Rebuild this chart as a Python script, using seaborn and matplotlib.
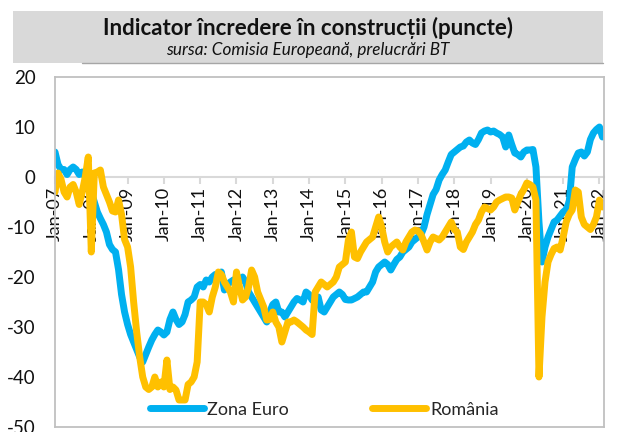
import numpy as np
import pandas as pd
import matplotlib
matplotlib.use("Agg")
import matplotlib.pyplot as plt
from matplotlib.patches import Rectangle
from matplotlib.lines import Line2D
import seaborn as sns

# lunar, ian 2007 - feb 2022
zona_euro = [
    5, 2.5, 1.5, 1.5, 0.5, 1.5, 2, 1.5, 0.5, 1, 0, -1,                          # 2007
    -3, -5, -7, -8.3, -9.5, -11, -13.5, -14.5, -15, -18.5, -23.5, -27,         # 2008
    -29.5, -31.5, -33, -34.5, -36, -37, -35.5, -34, -32.6, -31.5, -30.6, -31,  # 2009
    -31.6, -31, -28.5, -27, -28.5, -29.5, -29, -27.5, -25, -24.6, -24, -22,    # 2010
    -21.5, -22, -20.6, -21, -20, -19.5, -19.5, -19, -22.6, -21.5, -21, -20.6,  # 2011
    -20.6, -21, -20, -21, -23, -24, -25, -26, -27, -28, -29, -27,              # 2012
    -25.5, -25, -27, -27, -28, -27, -26, -25, -24.3, -24.6, -25, -23,          # 2013
    -23.5, -24.6, -25, -24, -26.6, -27, -26, -25, -24, -23.5, -23, -23.5,      # 2014
    -24.5, -24.6, -24.6, -24.3, -24, -23.5, -23, -23, -22, -21, -19, -18,      # 2015
    -17.5, -17, -17.5, -18.6, -17.5, -16.5, -16, -15, -14.5, -14, -13, -12.5,  # 2016
    -12, -11.5, -10, -7.5, -5.5, -3.5, -2.5, -0.6, 0.5, 1.4, 3, 4.5,           # 2017
    5, 5.5, 6, 6.2, 7, 7.4, 6.8, 6.5, 7.5, 8.8, 9.2, 9.4,                      # 2018
    9, 9.2, 8.8, 8.5, 8, 6, 8.4, 6.5, 4.8, 4.5, 4, 5,                          # 2019
    5.4, 5.4, 5.5, 2, -9, -17, -14, -12, -10.5, -9, -8.6, -7.8,                # 2020
    -7, -6.5, -5, 2, 3.5, 4.8, 5, 4.2, 5, 7.5, 8.8, 9.5,                       # 2021
    10, 8,                                                                     # 2022
]
romania = [
    -3, 0.8, -0.5, -3, -4, -2, -1.5, -3, -5.5, -3, 0, 4,
    -15, 0.8, 1, 1.4, -2, -3.5, -5, -6.8, -7, -4.6, -7.5, -12.5,
    -14, -18, -25, -31, -36, -40, -42, -42.5, -42, -40, -42, -41,
    -42, -36.6, -42.5, -42, -42.6, -44.6, -44.6, -44.6, -41.5, -41, -40, -37,
    -25, -25, -25.5, -27, -24, -22, -19, -19.5, -21, -22, -23, -25,
    -19, -22, -24.6, -24, -22, -18.6, -20, -23, -24.5, -26, -28.6, -28.5,
    -27, -29, -30, -33, -31, -29, -29, -28.6, -29, -29.5, -30, -30.6,
    -31, -31.5, -23, -22, -21, -21.5, -22, -21.5, -21, -20, -18, -17.5,
    -17, -12.6, -11, -16, -16.3, -15, -14, -13, -12.5, -12, -10, -8,
    -10, -13, -15, -14, -13.5, -13, -14, -14.6, -13, -12, -11, -10.6,
    -10.8, -11.5, -13, -14.6, -13, -12, -12.3, -12.6, -12, -11, -10, -9,
    -10.5, -11, -14, -14.5, -13, -12, -11, -9.5, -8.6, -7, -6, -6.3,
    -6.6, -6, -5, -4.6, -4.3, -4, -4, -4.2, -6.6, -5, -3.5, -2.5,
    -1.2, -1.5, -2, -4.6, -40, -28, -21, -17, -15.5, -14.3, -14, -14.6,
    -12, -9, -7.5, -6.6, -2.6, -3, -8, -9.5, -10, -10.5, -9.5, -8,
    -4.6, -6,
]
etichete_ani = ["Jan-%02d" % a for a in range(7, 23)]
culori = {"Zona Euro": "#00b0f0", "România": "#ffc000"}

sns.set_style("white")
plt.rcParams["font.family"] = ["Lato", "DejaVu Sans"]
plt.rcParams["axes.unicode_minus"] = False

df = pd.DataFrame({"luna": np.arange(len(zona_euro)),
                   "Zona Euro": zona_euro, "România": romania})
df_long = df.melt(id_vars="luna", var_name="serie", value_name="valoare")

fig = plt.figure(figsize=(6.17, 4.32), dpi=100)
ax = fig.add_axes([55 / 617, 5 / 432, 549 / 617, 350 / 432])
sns.lineplot(data=df_long, x="luna", y="valoare", hue="serie", palette=culori,
             linewidth=5, solid_joinstyle="round", solid_capstyle="round", ax=ax)

ax.set_xlim(0, 181.5)
ax.set_ylim(-50, 20)
ax.set_xticks([])
ax.set_xlabel("")
ax.set_ylabel("")
ax.set_yticks(range(-50, 21, 10))
ax.tick_params(axis="y", length=0, pad=14, labelsize=13.5, labelcolor="#111111")
for s in ax.spines.values():
    s.set_color("#c0c0c0")
    s.set_linewidth(1.3)

# axa de la zero, cu etichetele anilor
sec = ax.secondary_xaxis(0, transform=ax.transData)
sec.set_xticks(range(0, 181, 12), labels=etichete_ani, rotation=90)
sec.tick_params(axis="x", length=5, width=1.5, color="#d9d9d9", pad=2,
                labelsize=13, labelcolor="#111111")
sec.spines["bottom"].set_color("#d9d9d9")
sec.spines["bottom"].set_linewidth(1.5)
sec.spines["top"].set_visible(False)

handles, labels = ax.get_legend_handles_labels()
for h in handles:
    h.set_linewidth(5)
    h.set_solid_capstyle("round")
ax.legend(handles, labels, loc="lower center", bbox_to_anchor=(0.49, -0.02),
          ncol=2, frameon=False, fontsize=13, handlelength=3, handletextpad=0.2,
          columnspacing=4.6)

# caseta titlului
fig.add_artist(Rectangle((13 / 617, 1 - 63 / 432), 590 / 617, 52 / 432,
                         transform=fig.transFigure, facecolor="#d9d9d9", edgecolor="none"))
fig.add_artist(Line2D([82 / 617, 603 / 617], [1 - 63 / 432] * 2, color="#a6a6a6", lw=1))
fig.text(308 / 617, 1 - 28 / 432, "Indicator încredere în construcții (puncte)",
         ha="center", va="center", fontsize=16, fontweight="bold", color="#111111")
fig.text(308 / 617, 1 - 50 / 432, "sursa: Comisia Europeană, prelucrări BT",
         ha="center", va="center", fontsize=12.3, style="italic", color="#111111")

fig.savefig("out.png", dpi=100)
